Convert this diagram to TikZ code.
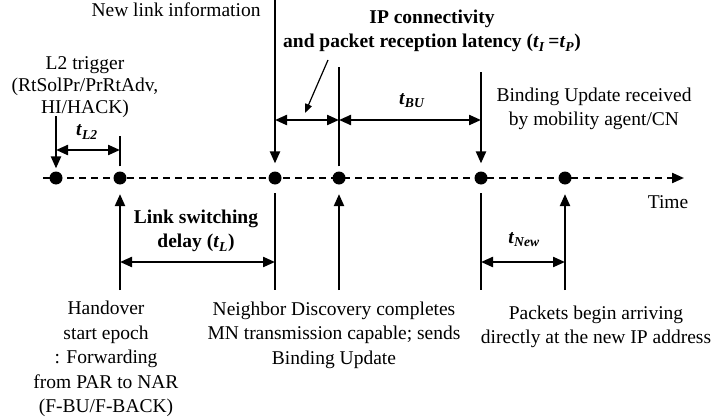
\documentclass[tikz,border=0pt]{standalone}
\usepackage{fontspec}
\setmainfont{Liberation Serif}
\usetikzlibrary{arrows.meta,positioning}
\newcommand{\tv}[1]{\textit{t}\textsubscript{\textit{#1}}}

\begin{document}
\begin{tikzpicture}[x=1pt,y=-1pt,>={Triangle[length=12pt,width=10pt]},line width=2.2pt,
dot/.style={circle,fill,inner sep=0pt,minimum size=13pt},
lbl/.style={align=center,inner sep=0pt,font=\fontsize{19.5}{24.5}\selectfont},
dim/.style={<->}]

\useasboundingbox (0,0) rectangle (717,420);

% time axis
\coordinate (tstart) at (43,178);
\coordinate (tend) at (684,178);
\draw[->,dash pattern=on 7pt off 5pt] (tstart) -- (tend);
\node[lbl] (time) at (668,202) {Time};

\node[dot] (e1) at (56,178) {};
\node[dot] (e2) at (120,178) {};
\node[dot] (e3) at (275,178) {};
\node[dot] (e4) at (339,178) {};
\node[dot] (e5) at (481,178) {};
\node[dot] (e6) at (565,178) {};

% free ends above the axis
\coordinate (a1) at (56,116);
\coordinate (a2) at (120,136);
\coordinate (a3) at (275,0);
\coordinate (a4) at (339,67);
\coordinate (a5) at (481,72);
% free ends below the axis
\coordinate (b2) at (120,290);
\coordinate (b3) at (275,290);
\coordinate (b4) at (339,290);
\coordinate (b5) at (481,290);
\coordinate (b6) at (565,290);

\draw[->,shorten >=2pt] (a1) -- (e1);
\draw[shorten <=4pt] (e2) -- (a2);
\draw[->,shorten >=7pt] (a3) -- (e3);
\draw[shorten <=4pt] (e4) -- (a4);
\draw[->,shorten >=7pt] (a5) -- (e5);

\draw[->,shorten >=8.5pt] (b2) -- (e2);
\draw[shorten <=7.5pt] (e3) -- (b3);
\draw[->,shorten >=8.5pt] (b4) -- (e4);
\draw[shorten <=7.5pt] (e5) -- (b5);
\draw[->,shorten >=8.5pt] (b6) -- (e6);

% intervals
\draw[dim] (a1 |- 0,150) -- (a2 |- 0,150);
\draw[dim] (a3 |- 0,120) -- (a4 |- 0,120);
\draw[dim] (a4 |- 0,120) -- (a5 |- 0,120);
\draw[dim] (b2 |- 0,262) -- (b3 |- 0,262);
\draw[dim] (b5 |- 0,262) -- (b6 |- 0,262);

\node[lbl] (tl2) at (87,132) {\textbf{\tv{L2}}};
\node[lbl] (tbu) at (412,101) {\textbf{\tv{BU}}};
\node[lbl] (tnew) at (524,240) {\textbf{\tv{New}}};

% labels
\node[lbl,font=\fontsize{19.5}{22}\selectfont] (l2) at (85,87) {L2 trigger\\(RtSolPr/PrRtAdv,\\HI/HACK)};
\node[lbl] (newlink) at (176,10) {New link information};
\node[lbl] (ipconn) at (432,31) {\textbf{IP connectivity}\\\textbf{and packet reception latency (\tv{I}\,=\tv{P})}};
\coordinate (ipfrom) at (328,60);
\coordinate (ipto) at (305,113);
\draw[->,line width=1.2pt,>={Triangle[length=9pt,width=7pt]}] (ipfrom) -- (ipto);
\node[lbl] (bu) at (594,109) {Binding Update received\\by mobility agent/CN};
\node[lbl] (lsw) at (196,231) {\textbf{Link switching}\\\textbf{delay (\tv{L})}};
\node[lbl] (hand) at (106,359) {Handover\\start epoch\\: Forwarding\\from PAR to NAR\\(F-BU/F-BACK)};
\node[lbl] (nd) at (334,335) {Neighbor Discovery completes\\MN transmission capable; sends\\Binding Update};
\node[lbl] (pkt) at (596,327) {Packets begin arriving\\directly at the new IP address};
\end{tikzpicture}
\end{document}
